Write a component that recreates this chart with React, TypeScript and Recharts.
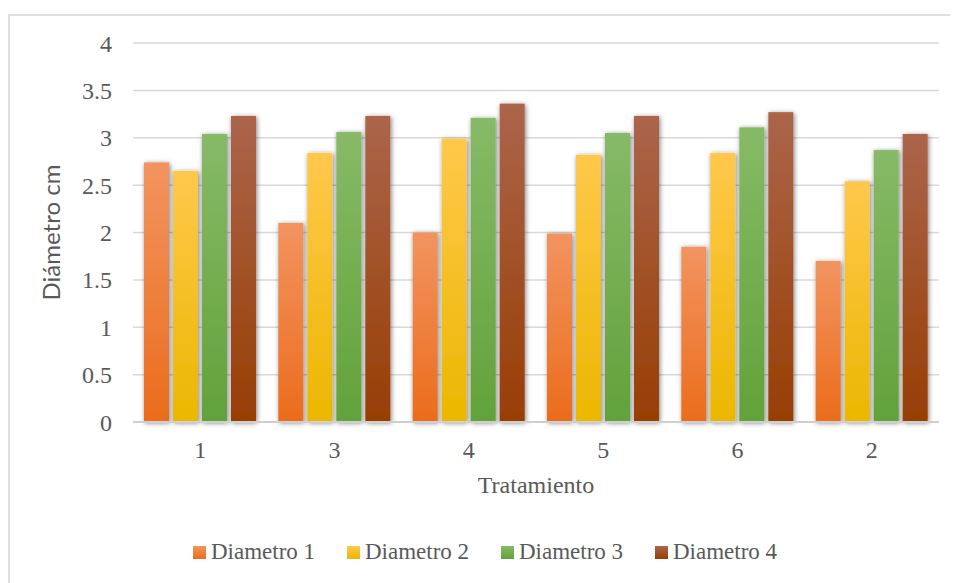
import { Bar, BarChart, CartesianGrid, XAxis, YAxis } from "recharts";

const categories = ["1", "3", "4", "5", "6", "2"];
const diametro1 = [2.74, 2.1, 2.0, 1.99, 1.85, 1.7];
const diametro2 = [2.65, 2.84, 2.99, 2.82, 2.84, 2.54];
const diametro3 = [3.04, 3.06, 3.21, 3.05, 3.11, 2.87];
const diametro4 = [3.23, 3.23, 3.36, 3.23, 3.27, 3.04];
const yTicks = [0, 0.5, 1, 1.5, 2, 2.5, 3, 3.5, 4];

const series = [
	{ key: "d1", name: "Diametro 1", values: diametro1, top: "#f29460", bottom: "#eb6c1c" },
	{ key: "d2", name: "Diametro 2", values: diametro2, top: "#ffc84c", bottom: "#ebb700" },
	{ key: "d3", name: "Diametro 3", values: diametro3, top: "#87ba67", bottom: "#62a23a" },
	{ key: "d4", name: "Diametro 4", values: diametro4, top: "#ab654b", bottom: "#983e04" },
];

const chartData = categories.map((label, i) => {
	const row: Record<string, string | number> = { label };
	series.forEach((s) => {
		row[s.key] = s.values[i];
	});
	return row;
});

const serif = '"Liberation Serif", "Times New Roman", Times, serif';
const textColor = "#595959";

// rect with a soft drop shadow, like the office chart style
const ShadowBar = (props: any) => {
	const { x, y, width, height, fill } = props;
	if (!height || height <= 0) return null;
	return <rect x={x} y={y} width={width} height={height} fill={fill} filter="url(#barShadow)" />;
};

export default function App() {
	return (
		<div style={{ position: "relative", width: 950, height: 575, overflow: "hidden", fontFamily: serif }}>
			<div
				style={{
					position: "absolute",
					left: 0,
					top: 6,
					width: 1000,
					height: 1000,
					border: "2px solid #e0e0e0",
					boxSizing: "border-box",
				}}
			/>
			<div style={{ position: "absolute", left: 0, top: 0 }}>
				<BarChart
					width={950}
					height={575}
					data={chartData}
					margin={{ top: 35, right: 19, left: 0, bottom: 81 }}
					barSize={25}
					barGap={4}
				>
					<defs>
						{series.map((s) => (
							<linearGradient key={s.key} id={`grad-${s.key}`} x1="0" y1="0" x2="0" y2="1">
								<stop offset="0%" stopColor={s.top} />
								<stop offset="100%" stopColor={s.bottom} />
							</linearGradient>
						))}
						<filter id="barShadow" x="-60%" y="-10%" width="220%" height="125%">
							<feDropShadow dx="1" dy="1" stdDeviation="2.5" floodColor="#000" floodOpacity="0.5" />
						</filter>
					</defs>
					<CartesianGrid vertical={false} stroke="#d9d9d9" strokeWidth={1.5} />
					<XAxis
						dataKey="label"
						axisLine={{ stroke: "#cfcfcf", strokeWidth: 2 }}
						tickLine={false}
						tickSize={0}
						tickMargin={19}
						height={80}
						tick={{ fill: textColor, fontSize: 24, fontFamily: serif }}
						label={{
							value: "Tratamiento",
							position: "insideBottom",
							offset: 9,
							fill: textColor,
							fontSize: 24,
							fontFamily: serif,
						}}
					/>
					<YAxis
						domain={[0, 4]}
						ticks={yTicks}
						axisLine={false}
						tickLine={false}
						tickSize={0}
						tickMargin={21}
						width={125}
						tick={{ fill: textColor, fontSize: 24, fontFamily: serif }}
						label={{
							value: "Diámetro cm",
							angle: -90,
							position: "insideLeft",
							offset: 43,
							fill: textColor,
							fontSize: 24,
							fontFamily: "Lato, 'Noto Sans', sans-serif",
							style: { textAnchor: "middle" },
						}}
					/>
					{series.map((s) => (
						<Bar
							key={s.key}
							dataKey={s.key}
							name={s.name}
							fill={`url(#grad-${s.key})`}
							shape={ShadowBar}
							isAnimationActive={false}
						/>
					))}
				</BarChart>
			</div>
			<div
				style={{
					position: "absolute",
					left: 185,
					top: 531,
					display: "flex",
					fontFamily: serif,
					fontSize: 23,
					lineHeight: "26px",
					color: textColor,
				}}
			>
				{series.map((s) => (
					<div key={s.key} style={{ width: 154, display: "flex", alignItems: "center", flex: "none" }}>
						<span
							style={{
								width: 13,
								height: 13,
								marginRight: 5,
								background: `linear-gradient(${s.top}, ${s.bottom})`,
								display: "inline-block",
							}}
						/>
						<span style={{ whiteSpace: "nowrap" }}>{s.name}</span>
					</div>
				))}
			</div>
		</div>
	);
}
